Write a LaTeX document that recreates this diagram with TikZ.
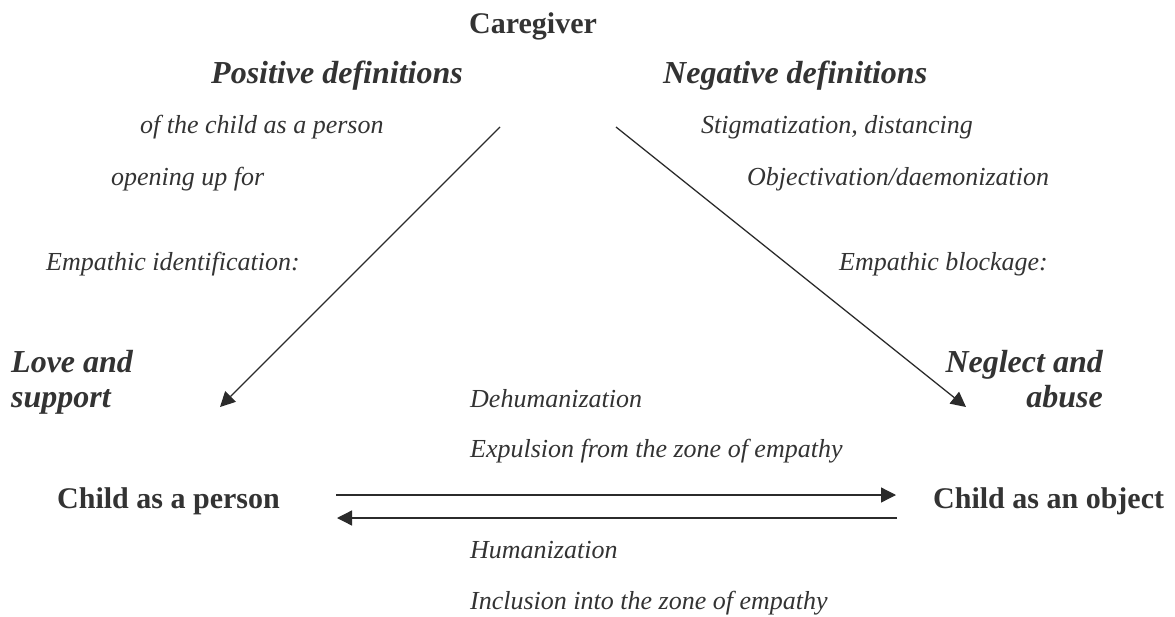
\documentclass[tikz,border=0pt]{standalone}
\usepackage{fontspec}
\setmainfont{Liberation Serif}
\usetikzlibrary{arrows.meta}
\definecolor{txt}{HTML}{333333}
\definecolor{ln}{HTML}{2B2B2B}
\tikzset{
  lbl/.style={inner sep=0pt, text=txt},
  bold/.style={lbl, font=\fontsize{30}{36}\selectfont\bfseries},
  bital/.style={lbl, font=\fontsize{32}{38}\selectfont\bfseries\itshape},
  ital/.style={lbl, font=\fontsize{26}{31}\selectfont\itshape},
  conn/.style={draw=ln, line width=1.3pt, -{Triangle[length=15pt,width=15pt]}},
}
\begin{document}
\begin{tikzpicture}[x=1pt,y=-1pt]
\useasboundingbox (0,0) rectangle (1175,616);
% headings
\node[bold, anchor=base west] (care) at (469,33) {Caregiver};
\node[bital, anchor=base west] (pos) at (211,83) {Positive definitions};
\node[bital, anchor=base west] (neg) at (663,83) {Negative definitions};
% left column
\node[ital, anchor=base west] (ofchild) at (140,133) {of the child as a person};
\node[ital, anchor=base west] (opening) at (111,185) {opening up for};
\node[ital, anchor=base west] (empid) at (46,270) {Empathic identification:};
% right column
\node[ital, anchor=base west] (stig) at (701,133) {Stigmatization, distancing};
\node[ital, anchor=base west] (objv) at (747,185) {Objectivation/daemonization};
\node[ital, anchor=base west] (empbl) at (839,270) {Empathic blockage:};
% outcomes
\node[bital, anchor=base west] (love) at (11,372) {Love and};
\node[bital, anchor=base west] (supp) at (11,407) {support};
\node[bital, anchor=base east] (negl) at (1103,372) {Neglect and};
\node[bital, anchor=base east] (abuse) at (1103,407) {abuse};
% children
\node[bold, anchor=base west] (cperson) at (57,508) {Child as a person};
\node[bold, anchor=base west] (cobject) at (933,508) {Child as an object};
% middle labels
\node[ital, anchor=base west] (dehum) at (470,407) {Dehumanization};
\node[ital, anchor=base west] (expul) at (470,457) {Expulsion from the zone of empathy};
\node[ital, anchor=base west] (hum) at (470,558) {Humanization};
\node[ital, anchor=base west] (incl) at (470,609) {Inclusion into the zone of empathy};
% connector ends
\coordinate (ls) at (500,127);
\coordinate (le) at (220,407);
\coordinate (rs) at (616,127);
\coordinate (re) at (966,407);
\coordinate (ts) at (336,495);
\coordinate (te) at (896,495);
\coordinate (bs) at (897,518);
\coordinate (be) at (337,518);
\draw[conn] (ls) -- (le);
\draw[conn] (rs) -- (re);
\draw[conn] (ts) -- (te);
\draw[conn] (bs) -- (be);
\end{tikzpicture}
\end{document}
